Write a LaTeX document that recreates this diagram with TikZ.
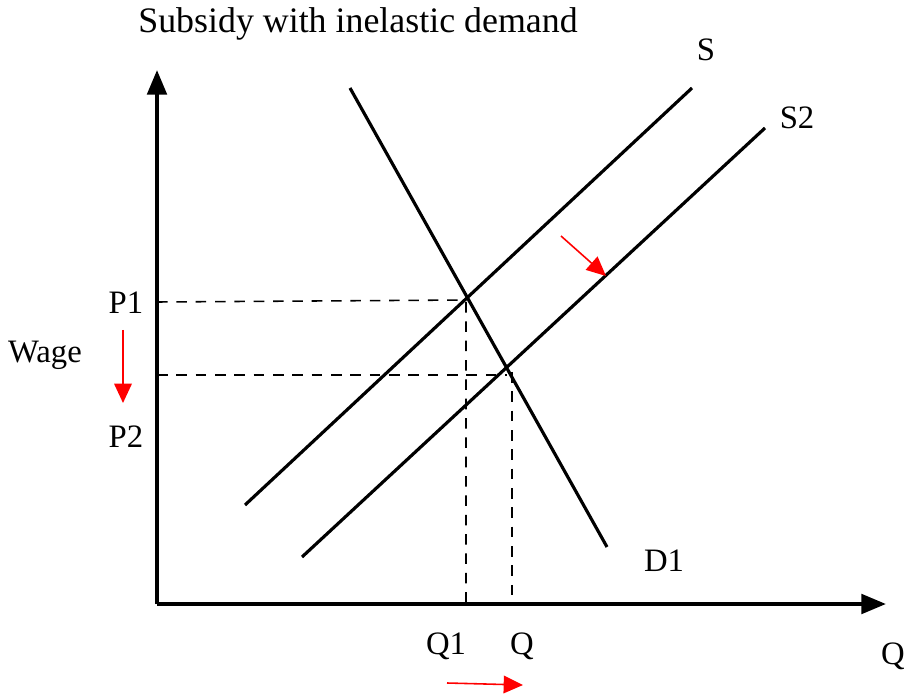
\documentclass[tikz,border=0pt]{standalone}
\usepackage{fontspec}
\setmainfont{Liberation Serif}
\usetikzlibrary{arrows.meta}
\tikzset{
  axis/.style={line width=1.15pt,-{Triangle[length=7pt,width=5.5pt]}},
  curve/.style={line width=0.9pt},
  guide/.style={dashed,line width=0.45pt,dash pattern=on 3pt off 2.5pt},
  shift arrow/.style={red,line width=0.45pt,-{Triangle[length=5.5pt,width=5pt]}}
}
\begin{document}
\begin{tikzpicture}[x=0.01cm,y=-0.01cm, font=\fontsize{9.3}{11}\selectfont, line join=round, line cap=butt]
			\useasboundingbox (0,0) rectangle (904,695);
			% axes
			\coordinate (O) at (157,604);
			\coordinate (ytop) at (157,70);
			\coordinate (xend) at (886,604);
			\draw[axis] (O)--(ytop);
			\draw[axis] (O)--(xend);
			% curves
			\coordinate (Dtop) at (350,88);
			\coordinate (Dbot) at (607,547);
			\coordinate (Sbot) at (245,505);
			\coordinate (Stop) at (692,88);
			\coordinate (Stwobot) at (302,557);
			\coordinate (Stwotop) at (765,128);
			\draw[curve] (Dtop)--(Dbot);
			\draw[curve] (Sbot)--(Stop);
			\draw[curve] (Stwobot)--(Stwotop);
			% equilibria
			\coordinate (E1) at (466,300);
			\coordinate (E2) at (507,372);
			\draw[guide] (157,302)--(E1) (466,302)--(466,604);
			\draw[guide] (157,375)--(507,375) (512,372)--(512,604);
			% labels
			\node[font=\fontsize{10.2}{12}\selectfont] (title) at (358,24) {Subsidy with inelastic demand};
			\node (lblS) at (706,50) {S};
			\node (lblSii) at (797,118) {S2};
			\node (lblD) at (664,561) {D1};
			\node (lblQaxis) at (893,656) {Q};
			\node (lblQi) at (446,646) {Q1};
			\node (lblQ) at (522,646) {Q};
			\node (lblP1) at (126,303) {P1};
			\node (lblP2) at (126,437) {P2};
			\node (lblW) at (45,355) {Wage};
			% shifts
			\coordinate (pa) at (123,330);
			\coordinate (pb) at (123,403);
			\coordinate (qa) at (447,683);
			\coordinate (qb) at (523,685);
			\coordinate (sa) at (561,236);
			\coordinate (sb) at (606,276);
			\draw[shift arrow] (pa)--(pb);
			\draw[shift arrow] (qa)--(qb);
			\draw[shift arrow] (sa)--(sb);
		\end{tikzpicture}
\end{document}
